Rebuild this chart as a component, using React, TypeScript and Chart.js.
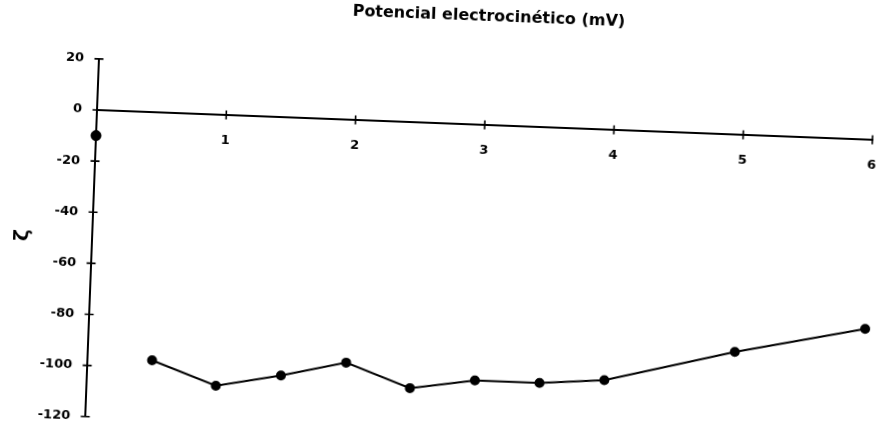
import { useEffect, useRef } from 'react';
import { Chart, registerables } from 'chart.js';

Chart.register(...registerables);

// Zeta potential series (mV) against concentration
const concentration = [0.5, 1, 1.5, 2, 2.5, 3, 3.5, 4, 5, 6];
const zetaPotential = [-97, -106, -101, -95, -104, -100, -100, -98, -85, -74];

// Isolated starting measurement drawn on the vertical axis
const startConcentration = [0];
const startPotential = [-10];

const xTickValues = [1, 2, 3, 4, 5, 6];
const yTickValues = [20, 0, -20, -40, -60, -80, -100, -120];

const chartTitle = 'Potencial electrocinético (mV)';
const yAxisTitle = 'ζ';

const FONT = 'DejaVu Sans';
const INK = '#000';

// Short cross marks on both axes at every tick value
const crossTicks = {
  id: 'crossTicks',
  beforeDatasetsDraw(chart: any) {
    const { ctx } = chart;
    const xs = chart.scales.x;
    const ys = chart.scales.y;
    const axisY = ys.getPixelForValue(0);
    const axisX = xs.getPixelForValue(0);
    ctx.save();
    ctx.strokeStyle = INK;
    ctx.lineWidth = 1.6;
    ctx.beginPath();
    xTickValues.forEach((v) => {
      const px = xs.getPixelForValue(v);
      ctx.moveTo(px, axisY - 4.5);
      ctx.lineTo(px, axisY + 4.5);
    });
    yTickValues.forEach((v) => {
      const py = ys.getPixelForValue(v);
      ctx.moveTo(axisX - 4.5, py);
      ctx.lineTo(axisX + 4.5, py);
    });
    ctx.stroke();
    ctx.restore();
  },
};

export default function App() {
  const canvasRef = useRef<HTMLCanvasElement | null>(null);

  useEffect(() => {
    document.documentElement.style.overflow = 'hidden';
    document.body.style.overflow = 'hidden';
    const canvas = canvasRef.current;
    if (!canvas) return;

    const chart = new Chart(canvas, {
      type: 'line',
      data: {
        datasets: [
          {
            data: concentration.map((x, i) => ({ x, y: zetaPotential[i] })),
            borderColor: INK,
            borderWidth: 2,
            backgroundColor: INK,
            pointBackgroundColor: INK,
            pointBorderColor: INK,
            pointRadius: 4,
            tension: 0,
            clip: false,
          },
          {
            data: startConcentration.map((x, i) => ({ x, y: startPotential[i] })),
            showLine: false,
            pointBackgroundColor: INK,
            pointBorderColor: INK,
            pointRadius: 5,
            clip: false,
          },
        ],
      },
      options: {
        animation: false,
        responsive: false,
        devicePixelRatio: 1,
        events: [],
        layout: { padding: { top: 0, left: 0, right: 37, bottom: 43.2 } },
        plugins: {
          legend: { display: false },
          tooltip: { enabled: false },
          title: {
            display: true,
            text: chartTitle,
            fullSize: false,
            color: INK,
            font: { family: FONT, size: 16, weight: 'bold' },
            padding: { top: 22, bottom: 47.7 },
          },
        },
        scales: {
          x: {
            type: 'linear',
            min: 0,
            max: 6,
            position: { y: 0 },
            afterBuildTicks: (s: any) => {
              s.ticks = xTickValues.map((value) => ({ value }));
            },
            afterFit: (s: any) => {
              s.height = 0;
            },
            ticks: {
              color: INK,
              padding: 18,
              maxRotation: 0,
              autoSkip: false,
              font: { family: FONT, size: 13, weight: 'bold' },
            },
            grid: { display: false, drawTicks: false },
            border: { display: true, color: INK, width: 2 },
          },
          y: {
            type: 'linear',
            position: 'left',
            min: -120,
            max: 20,
            afterBuildTicks: (s: any) => {
              s.ticks = yTickValues.map((value) => ({ value }));
            },
            afterFit: (s: any) => {
              s.width = 127;
            },
            ticks: {
              color: INK,
              padding: 15,
              autoSkip: false,
              font: { family: FONT, size: 13, weight: 'bold' },
            },
            grid: { display: false, drawTicks: false },
            border: { display: true, color: INK, width: 2 },
            title: {
              display: true,
              text: yAxisTitle,
              color: INK,
              font: { family: FONT, size: 20, weight: 'bold' },
              padding: { top: 46, bottom: 0 },
            },
          },
        },
      },
      plugins: [crossTicks],
    } as any);

    return () => chart.destroy();
  }, []);

  return (
    <div
      style={{
        position: 'fixed',
        left: -30,
        top: -30,
        width: 940,
        height: 490,
        transform: 'rotate(2.2deg)',
        transformOrigin: '127px 140px',
        background: '#fff',
      }}
    >
      <canvas
        ref={canvasRef}
        width={940}
        height={490}
        style={{ width: 940, height: 490, display: 'block' }}
      />
    </div>
  );
}
